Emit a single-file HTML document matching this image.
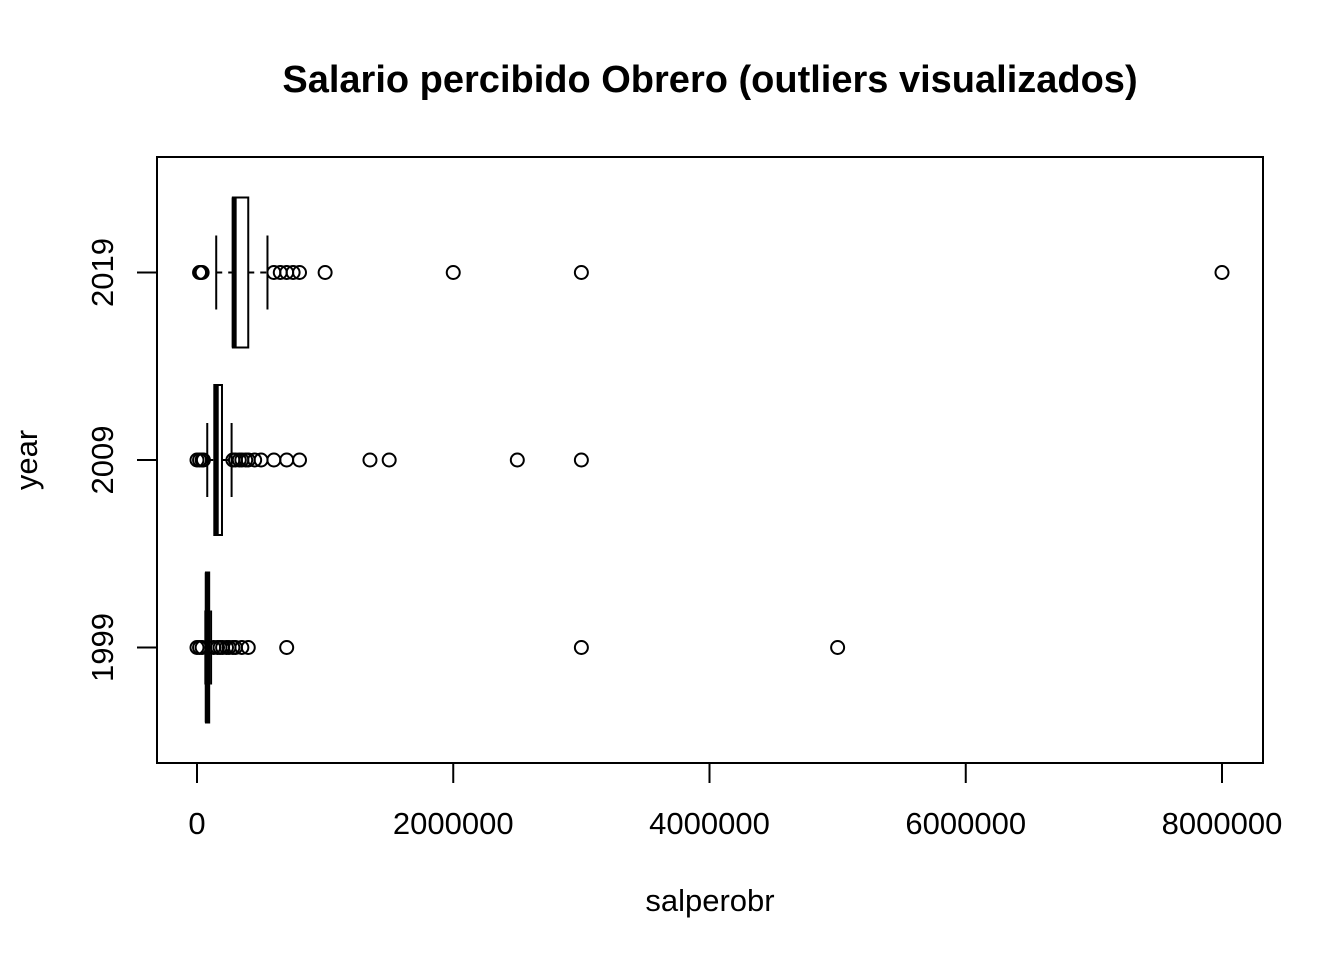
<!DOCTYPE html>
<html><head><meta charset="utf-8"><style>
body{margin:0;background:#fff;}
svg text{font-family:"Liberation Sans",Arial,sans-serif;}
</style></head><body>
<svg id="chart" width="1344" height="960" xmlns="http://www.w3.org/2000/svg">
<rect width="1344" height="960" fill="#fff"/>
<text x="710" y="92" font-size="38" font-weight="bold" text-anchor="middle">Salario percibido Obrero (outliers visualizados)</text>
<rect x="157" y="157" width="1106" height="606" fill="none" stroke="#000" stroke-width="2"/>
<text x="710" y="911" font-size="31" text-anchor="middle">salperobr</text>
<text transform="translate(37,460) rotate(-90)" font-size="31" text-anchor="middle">year</text>
<g id="axes"></g><g id="marks"></g>
</svg>
<script>
const years = ["2019","2009","1999"];
const q1 = [280000, 135000, 70000];
const med = [290000, 150000, 80000];
const q3 = [400000, 195000, 95000];
const wlo = [150000, 80000, 65000];
const whi = [550000, 270000, 110000];
const outliers2019 = [20000,30000,40000,600000,650000,700000,750000,800000,1000000,2000000,3000000,8000000];
const outliers2009 = [0,20000,40000,50000,280000,300000,330000,350000,380000,400000,450000,500000,600000,700000,800000,1350000,1500000,2500000,3000000];
const outliers1999 = [0,20000,40000,130000,160000,180000,200000,230000,250000,280000,300000,350000,400000,700000,3000000,5000000];
const outliers = [outliers2019, outliers2009, outliers1999];
const xTicks = [0,2000000,4000000,6000000,8000000];
const xTickLabels = ["0","2000000","4000000","6000000","8000000"];

const NS="http://www.w3.org/2000/svg";
const xs = v => 197 + v*(1222-197)/8000000;
const ys = i => 272.5 + i*187.5;
function mk(tag, attrs, parent){const e=document.createElementNS(NS,tag);for(const k in attrs)e.setAttribute(k,attrs[k]);parent.appendChild(e);return e;}
const axes=document.getElementById('axes'), marks=document.getElementById('marks');
xTicks.forEach((t,i)=>{
  const l=mk('line',{x1:xs(t),x2:xs(t),y1:763,y2:783,stroke:'#000','stroke-width':2},axes);
  
  
  const tx=mk('text',{x:xs(t),y:834,'font-size':31,'text-anchor':'middle'},axes);
  tx.textContent=xTickLabels[i];
  
  
});
mk('line',{x1:xs(0),x2:xs(8000000),y1:763,y2:763,stroke:'#000','stroke-width':2},axes);
years.forEach((y,i)=>{
  const cy=ys(i);
  const l=mk('line',{x1:137,x2:157,y1:cy,y2:cy,stroke:'#000','stroke-width':2},axes);
  
  
  const tx=mk('text',{transform:`translate(113,${cy}) rotate(-90)`,'font-size':31,'text-anchor':'middle'},axes);
  tx.textContent=y;
  
  
  const g=mk('g',{},marks);
  
  
  const st={stroke:'#000','stroke-width':2,fill:'none'};
  mk('line',Object.assign({x1:xs(wlo[i]),x2:xs(q1[i]),y1:cy,y2:cy,'stroke-dasharray':'6,6'},st),g);
  mk('line',Object.assign({x1:xs(q3[i]),x2:xs(whi[i]),y1:cy,y2:cy,'stroke-dasharray':'6,6'},st),g);
  mk('line',Object.assign({x1:xs(wlo[i]),x2:xs(wlo[i]),y1:cy-37,y2:cy+37},st),g);
  mk('line',Object.assign({x1:xs(whi[i]),x2:xs(whi[i]),y1:cy-37,y2:cy+37},st),g);
  mk('rect',{x:xs(q1[i]),y:cy-75,width:Math.max(1,xs(q3[i])-xs(q1[i])),height:150,fill:'#fff',stroke:'#000','stroke-width':2},g);
  mk('line',{x1:xs(med[i]),x2:xs(med[i]),y1:cy-75,y2:cy+75,stroke:'#000','stroke-width':5},g);
  outliers[i].forEach(v=>{
    const c=mk('circle',{cx:xs(v),cy:cy,r:6.5,fill:'none',stroke:'#000','stroke-width':2},g);
    
    
  });
});
</script>
</body></html>
